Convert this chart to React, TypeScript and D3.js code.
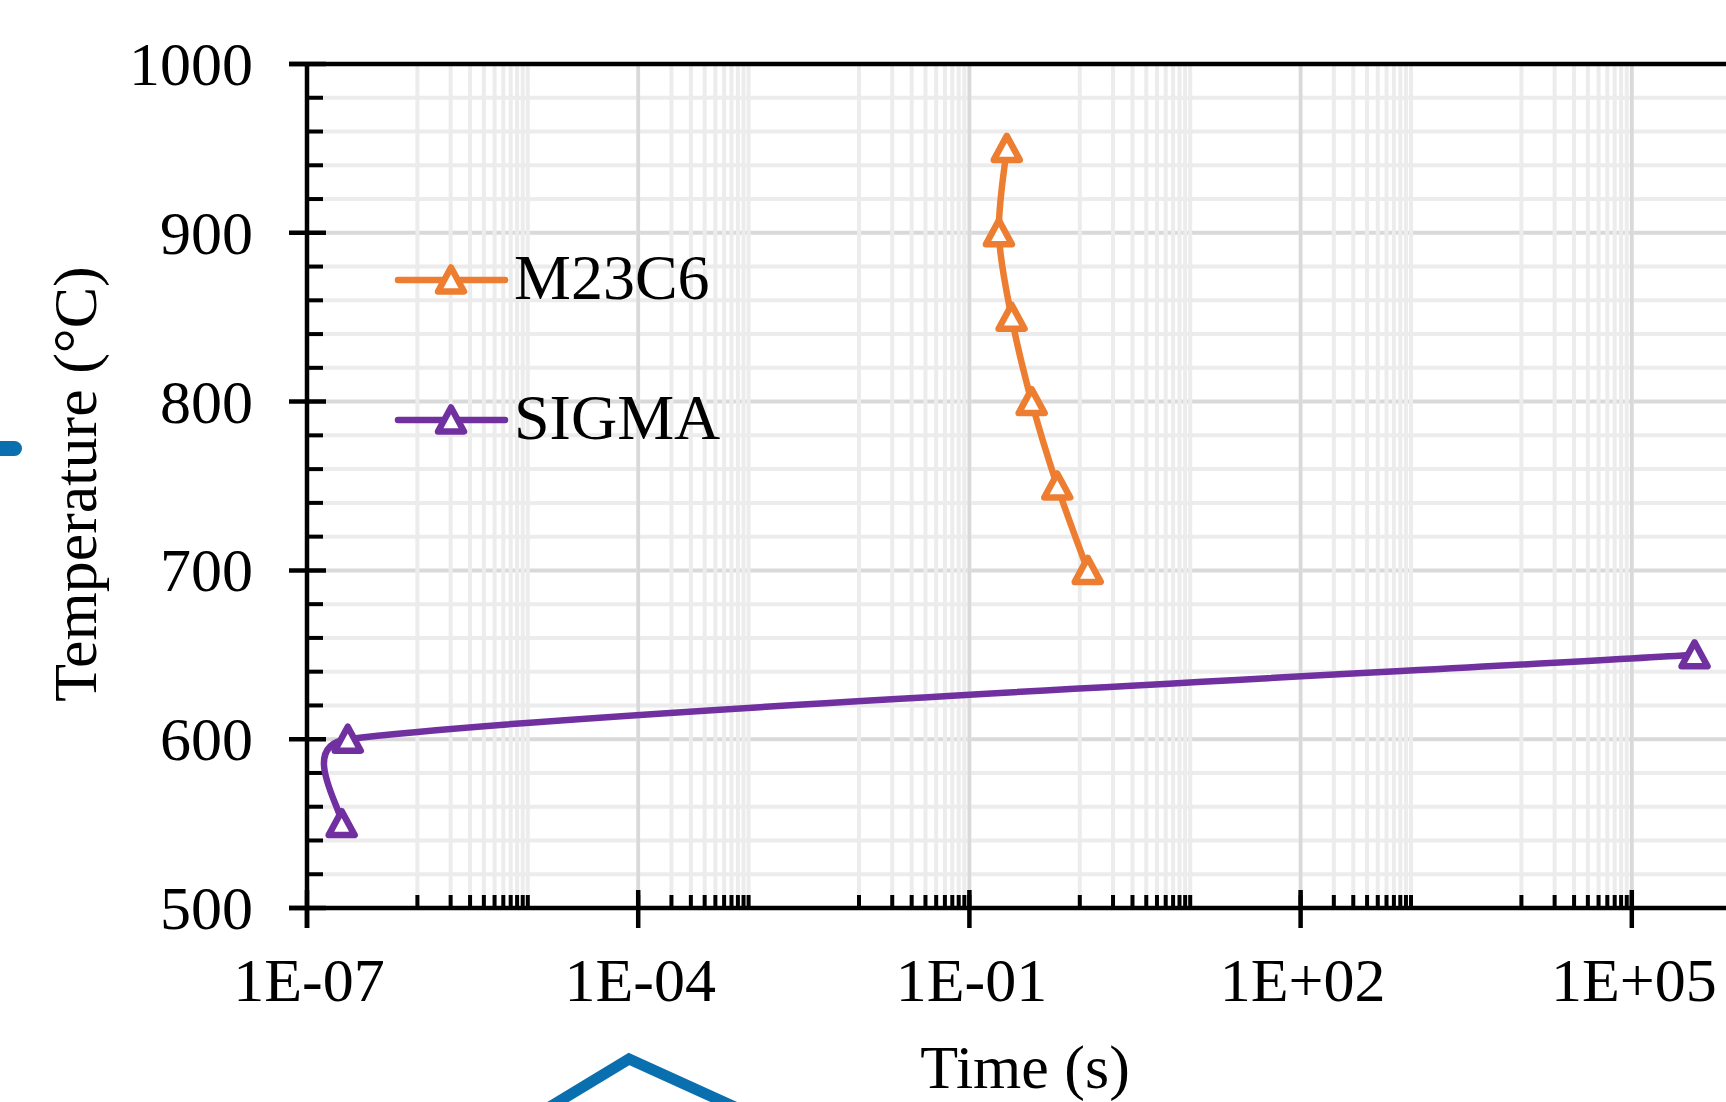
import React from "react";
import * as d3 from "d3";

// ---- data ----
const m23c6Temp = [950, 900, 850, 800, 750, 700];
const m23c6Time = [0.218, 0.185, 0.241, 0.366, 0.625, 1.18];
const sigmaTemp = [550, 600, 650];
const sigmaTime = [2.06e-7, 2.34e-7, 3.7e5];

const xMajorTicks = [1e-7, 1e-4, 1e-1, 1e2, 1e5];
const xTickLabels = ["1E-07", "1E-04", "1E-01", "1E+02", "1E+05"];
const xMinorDecades = [-6, -4, -2, 0, 2, 4, 6];
const yMajorTicks = [500, 600, 700, 800, 900, 1000];
const yTickLabels = ["500", "600", "700", "800", "900", "1000"];
const yMinorTicks = d3.range(500, 1001, 20).filter((v) => v % 100 !== 0);

const seriesNames = ["M23C6", "SIGMA"];
const seriesColors = ["#ED7D31", "#7030A0"];

// ---- layout ----
const W = 1726;
const H = 1102;
const X0 = 307;
const PX_DEC = 110.4;
const Y_TOP = 64;
const Y_BOT = 908;
const FONT = "'Liberation Serif', 'Times New Roman', serif";
const FS = 62;

const x = d3.scaleLog().domain([1e-7, 1e8]).range([X0, X0 + 15 * PX_DEC]);
const y = d3.scaleLinear().domain([500, 1000]).range([Y_BOT, Y_TOP]);

const xMinorTicks: number[] = [];
xMinorDecades.forEach((d) => {
  for (let k = 1; k <= 10; k++) xMinorTicks.push(k * Math.pow(10, d));
});

function smoothPath(pts: [number, number][]): string {
  const p = d3.path();
  if (!pts.length) return "";
  p.moveTo(pts[0][0], pts[0][1]);
  const clampF = 0.6;
  const tangent = (a: [number, number], b: [number, number], seg: number) => {
    let tx = (b[0] - a[0]) / 6;
    let ty = (b[1] - a[1]) / 6;
    const len = Math.hypot(tx, ty);
    const lim = clampF * seg;
    if (len > lim && len > 0) {
      tx = (tx * lim) / len;
      ty = (ty * lim) / len;
    }
    return [tx, ty];
  };
  for (let i = 0; i < pts.length - 1; i++) {
    const p0 = pts[i - 1] ?? pts[i];
    const p1 = pts[i];
    const p2 = pts[i + 1];
    const p3 = pts[i + 2] ?? pts[i + 1];
    const seg = Math.hypot(p2[0] - p1[0], p2[1] - p1[1]);
    const t1 = tangent(p0, p2, seg);
    const t2 = tangent(p1, p3, seg);
    p.bezierCurveTo(p1[0] + t1[0], p1[1] + t1[1], p2[0] - t2[0], p2[1] - t2[1], p2[0], p2[1]);
  }
  return p.toString();
}

const triPath = "M0,-12.5L13,11.5L-13,11.5Z";

function Marker({ cx, cy, color }: { cx: number; cy: number; color: string }) {
  return (
    <path
      d={triPath}
      transform={`translate(${cx},${cy})`}
      fill="#fff"
      stroke={color}
      strokeWidth={6.5}
      strokeLinejoin="round"
    />
  );
}

export default function App() {
  const series = [
    { name: seriesNames[0], color: seriesColors[0], pts: m23c6Time.map((t, i) => [x(t), y(m23c6Temp[i])] as [number, number]) },
    { name: seriesNames[1], color: seriesColors[1], pts: sigmaTime.map((t, i) => [x(t), y(sigmaTemp[i])] as [number, number]) },
  ];
  const legendY = [280, 420];
  const AX = 4.5;

  return (
    <svg
      width={W}
      height={H}
      style={{ position: "absolute", left: 0, top: 0, background: "#fff" }}
      fontFamily={FONT}
    >
      <rect x={0} y={0} width={W} height={H} fill="#fff" />
      {/* horizontal gridlines */}
      {yMinorTicks.map((v) => (
        <line key={"hm" + v} x1={X0} x2={W} y1={y(v)} y2={y(v)} stroke="#ececec" strokeWidth={4} />
      ))}
      {yMajorTicks.map((v) => (
        <line key={"hM" + v} x1={X0} x2={W} y1={y(v)} y2={y(v)} stroke="#d9d9d9" strokeWidth={4} />
      ))}
      {/* vertical gridlines */}
      {xMinorTicks.map((v, i) => (
        <line key={"vm" + i} x1={x(v)} x2={x(v)} y1={Y_TOP} y2={Y_BOT} stroke="#ececec" strokeWidth={4} />
      ))}
      {xMajorTicks.map((v) => (
        <line key={"vM" + v} x1={x(v)} x2={x(v)} y1={Y_TOP} y2={Y_BOT} stroke="#d9d9d9" strokeWidth={3.5} />
      ))}

      {/* axes */}
      <line x1={X0} x2={X0} y1={Y_TOP} y2={Y_BOT + 20} stroke="#000" strokeWidth={AX} />
      <line x1={289} x2={W} y1={Y_BOT} y2={Y_BOT} stroke="#000" strokeWidth={AX} />
      <line x1={289} x2={W} y1={Y_TOP} y2={Y_TOP} stroke="#000" strokeWidth={AX} />
      {yMajorTicks.map((v) => (
        <line key={"yt" + v} x1={289} x2={326} y1={y(v)} y2={y(v)} stroke="#000" strokeWidth={AX} />
      ))}
      {yMinorTicks.map((v) => (
        <line key={"ytm" + v} x1={X0} x2={323} y1={y(v)} y2={y(v)} stroke="#000" strokeWidth={4} />
      ))}
      {xMajorTicks.map((v) => (
        <line key={"xt" + v} x1={x(v)} x2={x(v)} y1={Y_BOT - 18} y2={Y_BOT + 20} stroke="#000" strokeWidth={AX} />
      ))}
      {xMinorTicks.map((v, i) => (
        <line key={"xtm" + i} x1={x(v)} x2={x(v)} y1={Y_BOT - 13} y2={Y_BOT} stroke="#000" strokeWidth={4} />
      ))}

      {/* tick labels */}
      {yMajorTicks.map((v, i) => (
        <text key={"yl" + v} x={253} y={y(v) + 21} fontSize={FS} textAnchor="end" fill="#000">
          {yTickLabels[i]}
        </text>
      ))}
      {xMajorTicks.map((v, i) => (
        <text key={"xl" + v} x={x(v) + 2} y={1001} fontSize={FS} textAnchor="middle" fill="#000">
          {xTickLabels[i]}
        </text>
      ))}

      {/* axis titles */}
      <text x={1025} y={1088} fontSize={FS} textAnchor="middle" fill="#000">
        Time (s)
      </text>
      <text
        transform={`translate(96,${(Y_TOP + Y_BOT) / 2 - 2}) rotate(-90)`}
        fontSize={FS}
        textAnchor="middle"
        fill="#000"
      >
        Temperature (°C)
      </text>

      {/* series */}
      {series.map((s) => (
        <g key={s.name}>
          <path d={smoothPath(s.pts)} fill="none" stroke={s.color} strokeWidth={6.5} strokeLinecap="round" strokeLinejoin="round" />
          {s.pts.map((p, i) => (
            <Marker key={i} cx={p[0]} cy={p[1]} color={s.color} />
          ))}
        </g>
      ))}

      {/* legend */}
      {series.map((s, i) => (
        <g key={"lg" + s.name}>
          <line x1={398} x2={505} y1={legendY[i]} y2={legendY[i]} stroke={s.color} strokeWidth={6.5} strokeLinecap="round" />
          <Marker cx={451} cy={legendY[i]} color={s.color} />
          <text x={514} y={legendY[i] + 19} fontSize={64} fill="#000">
            {s.name}
          </text>
        </g>
      ))}

      {/* cropped decoration fragments */}
      <path d="M548,1108L629,1059L737,1108" fill="none" stroke="#0A6FAE" strokeWidth={11} />
      <rect x={-12} y={441} width={34} height={15} rx={7.5} fill="#0A6FAE" />
    </svg>
  );
}
